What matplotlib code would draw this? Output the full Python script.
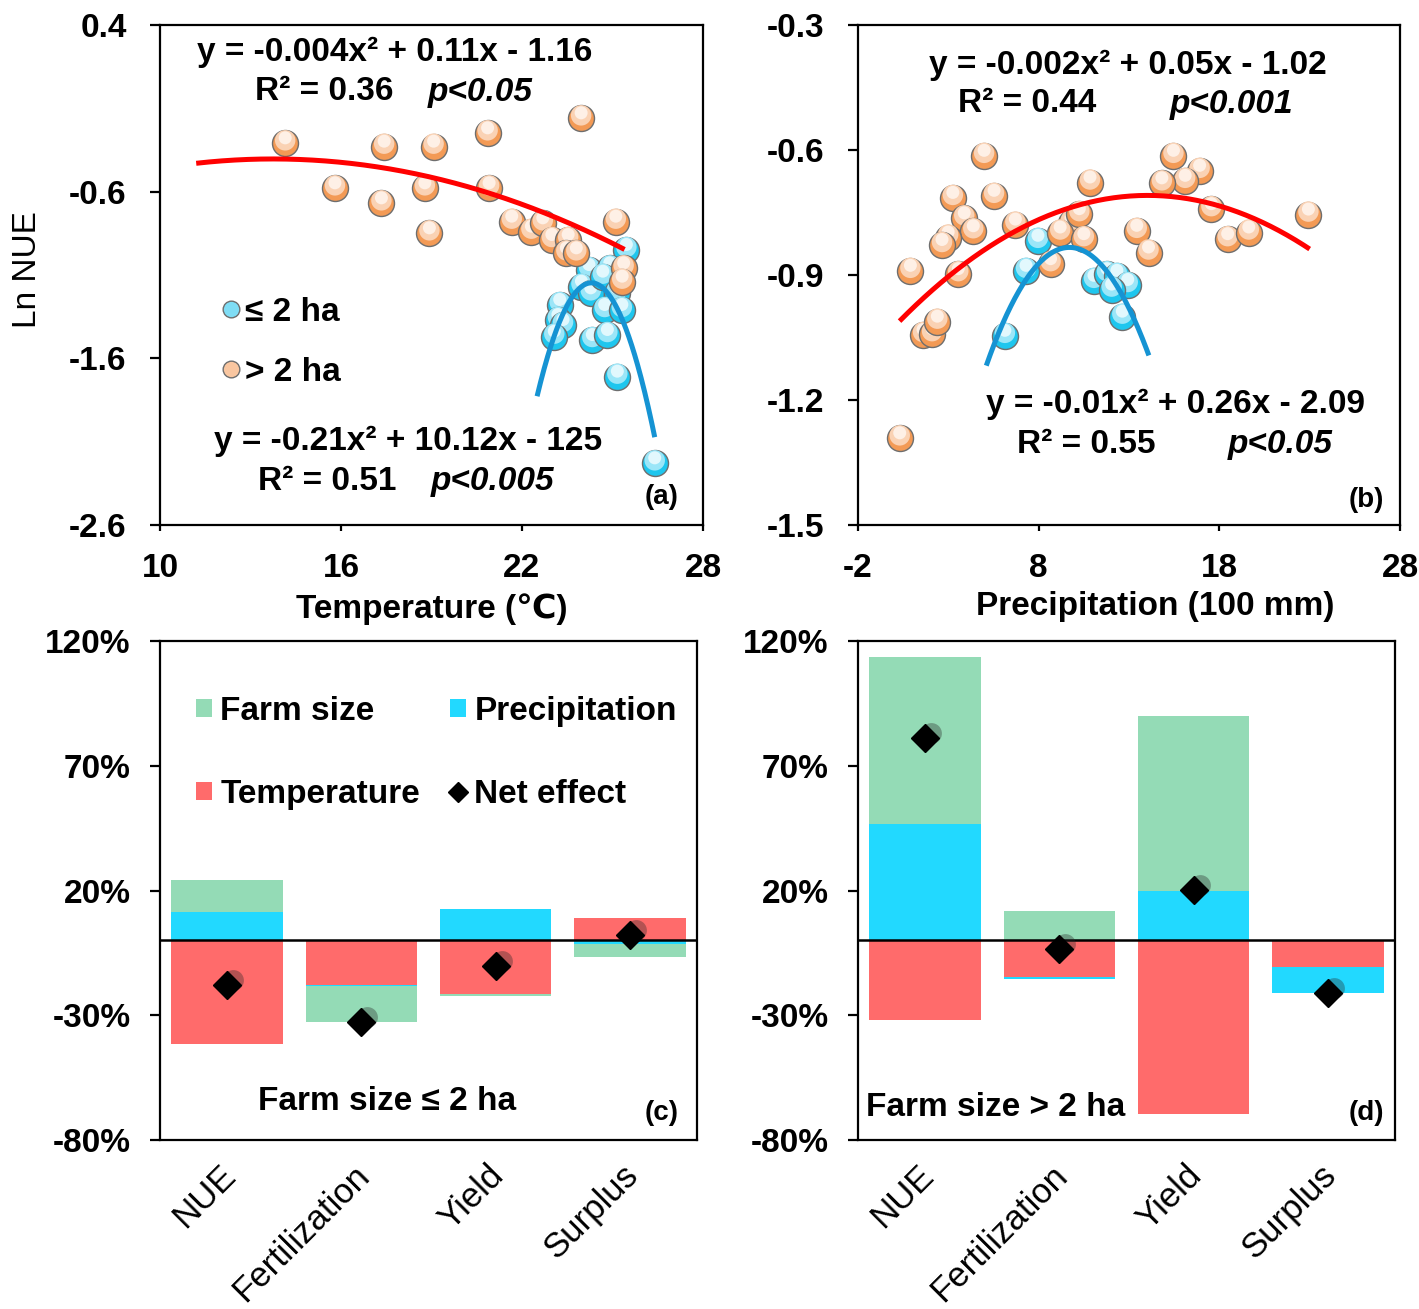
import numpy as np
import matplotlib
matplotlib.use("Agg")
import matplotlib.pyplot as plt
from matplotlib.lines import Line2D
from matplotlib.patches import Patch
from matplotlib.transforms import offset_copy, ScaledTranslation

plt.rcParams['font.family'] = ['Liberation Sans', 'DejaVu Sans']
plt.rcParams['axes.unicode_minus'] = False

# ---------------- Panel (a): Ln NUE vs temperature ----------------
temp_large = [14.15, 17.43, 19.07, 20.86, 23.96, 15.80, 17.34, 18.78, 20.91, 18.93,
              21.66, 22.31, 22.69, 22.99, 23.53, 23.47, 23.80, 25.11, 25.37, 25.32]
lnnue_temp_large = [-0.31, -0.33, -0.33, -0.25, -0.16, -0.58, -0.67, -0.58, -0.58, -0.85,
                    -0.78, -0.84, -0.79, -0.89, -0.89, -0.97, -0.97, -0.78, -1.06, -1.14]
temp_small = [25.46, 24.22, 24.91, 23.97, 24.28, 24.68, 25.14, 23.25, 24.74, 25.31,
              23.19, 23.36, 23.07, 24.33, 24.83, 25.16, 26.40]
lnnue_temp_small = [-0.95, -1.07, -1.06, -1.17, -1.21, -1.11, -1.21, -1.28, -1.31, -1.31,
                    -1.37, -1.40, -1.47, -1.49, -1.46, -1.71, -2.23]
fit_a_large = [-0.004, 0.11, -1.16]
fit_a_large_range = [11.2, 25.4]
fit_a_small = [-0.21, 10.206, -125.15]
fit_a_small_range = [22.5, 26.4]
a_xticks = [10, 16, 22, 28]
a_yticks = [0.4, -0.6, -1.6, -2.6]

# ---------------- Panel (b): Ln NUE vs precipitation ----------------
prec_large = [4.98, 15.46, 16.91, 16.11, 14.82, 10.84, 3.25, 5.53, 3.88, 4.38,
              2.99, 2.65, 6.71, 9.79, 10.25, 9.19, 10.50, 13.43, 14.08, 17.56,
              18.46, 19.63, 22.93, 0.90, 3.55, 8.66, 1.60, 2.10, 2.39, 0.31]
lnnue_prec_large = [-0.614, -0.614, -0.650, -0.674, -0.680, -0.678, -0.715, -0.710, -0.764, -0.795,
                    -0.810, -0.828, -0.779, -0.775, -0.754, -0.798, -0.814, -0.794, -0.846, -0.742,
                    -0.814, -0.798, -0.755, -0.890, -0.898, -0.874, -1.044, -1.042, -1.012, -1.292]
prec_small = [7.96, 7.30, 11.06, 11.78, 12.33, 12.93, 12.04, 12.63, 6.13]
lnnue_prec_small = [-0.818, -0.890, -0.914, -0.898, -0.902, -0.924, -0.935, -1.000, -1.046]
fit_b_large = [-0.0016, 0.0449, -1.024]
fit_b_large_range = [0.3, 23.0]
fit_b_small = [-0.0134, 0.26, -2.095]
fit_b_small_range = [5.1, 14.1]
b_xticks = [-2, 8, 18, 28]
b_yticks = [-0.3, -0.6, -0.9, -1.2, -1.5]

# ---------------- Panels (c), (d): attribution (%) ----------------
categories = ['NUE', 'Fertilization', 'Yield', 'Surplus']
small_temp = [-41.6, -17.8, -21.3, 9.0]
small_prec = [11.4, -0.5, 12.6, -1.4]
small_farm = [12.9, -14.6, -1.1, -5.2]
small_net = [-17.8, -32.9, -10.3, 2.1]
large_temp = [-32.1, -14.8, -69.7, -10.5]
large_prec = [46.6, -0.5, 20.0, -10.4]
large_farm = [67.0, 11.8, 70.0, -0.3]
large_net = [81.1, -3.4, 20.3, -21.2]
pct_yticks = [120, 70, 20, -30, -80]

# ---------------- styling ----------------
W, H = 1419, 1309
FS = 24
C_FARM = '#94DBB6'
C_PREC = '#22D9FF'
C_TEMP = '#FF6B6B'
C_RED = '#FF0000'
C_BLUE = '#1593D3'

fig = plt.figure(figsize=(W / 100, H / 100), dpi=100)

boxes = {  # left, top, right, bottom in pixels
    'a': (160, 25, 703, 525),
    'b': (858, 25, 1400, 525),
    'c': (160, 641, 697, 1140),
    'd': (858, 641, 1395, 1140),
}


def make_ax(key):
    l, t, r, b = boxes[key]
    return fig.add_axes([l / W, 1 - b / H, (r - l) / W, (b - t) / H])


def frac(key, px, py):
    l, t, r, b = boxes[key]
    return (px - l) / (r - l), (b - py) / (b - t)


def ptext(ax, key, px, py, s, ha='center', **kw):
    fx, fy = frac(key, px, py)
    kw.setdefault('fontsize', FS)
    kw.setdefault('fontweight', 'bold')
    ax.text(fx, fy, s, transform=ax.transAxes, ha=ha, va='center', **kw)


def style_axes(ax):
    for sp in ax.spines.values():
        sp.set_linewidth(1.6)
    ax.tick_params(axis='y', direction='out', length=7, width=1.6, pad=17, labelsize=FS)
    ax.tick_params(axis='x', direction='out', length=4, width=1.6, pad=16, labelsize=FS)
    for lab in ax.get_yticklabels():
        lab.set_fontweight('bold')


def sphere_points(ax, xs, ys, base, mid, top, z0):
    d = 26.0  # px diameter
    s = (d * 72 / 100) ** 2
    for i, (x, y) in enumerate(zip(xs, ys)):
        z = z0 + i * 0.01
        ax.scatter([x], [y], s=s, facecolor=base, edgecolor='#6E6E6E', linewidth=1.0, zorder=z)
        tr1 = offset_copy(ax.transData, fig=fig, x=0, y=3.0, units='dots')
        ax.scatter([x], [y], s=s * 0.62, facecolor=mid, edgecolor='none', zorder=z + 0.002, transform=tr1)
        tr2 = offset_copy(ax.transData, fig=fig, x=0, y=5.5, units='dots')
        ax.scatter([x], [y], s=s * 0.25, facecolor=top, edgecolor='none', zorder=z + 0.004, transform=tr2)


def fit_line(ax, coef, rng, color):
    xx = np.linspace(rng[0], rng[1], 200)
    ax.plot(xx, np.polyval(coef, xx), color=color, lw=3.6, zorder=10, solid_capstyle='butt')


ORANGE = ('#F39A55', '#FAD2B4', '#FEF0E6')
BLUE = ('#1EC6EE', '#9BE6F8', '#E2F8FD')

# ---- (a) ----
axa = make_ax('a')
sphere_points(axa, temp_small, lnnue_temp_small, *BLUE, z0=3)
sphere_points(axa, temp_large, lnnue_temp_large, *ORANGE, z0=5)
fit_line(axa, fit_a_large, fit_a_large_range, C_RED)
fit_line(axa, fit_a_small, fit_a_small_range, C_BLUE)
axa.set_xlim(10, 28)
axa.set_ylim(-2.6, 0.4)
axa.set_xticks(a_xticks)
axa.set_xticklabels([str(v) for v in a_xticks], fontweight='bold')
axa.set_yticks(a_yticks)
axa.set_yticklabels([f"{v:.1f}" for v in a_yticks])
style_axes(axa)
axa.set_xlabel('Temperature (\u2103)', fontsize=FS, fontweight='bold')
axa.xaxis.set_label_coords(*frac('a', 432, 609))
axa.xaxis.label.set_va('center')
axa.set_ylabel('Ln NUE', fontsize=FS)
axa.yaxis.set_label_coords(*frac('a', 28, 270))
axa.yaxis.label.set_va('center')
ptext(axa, 'a', 395, 52, 'y = -0.004x\u00b2 + 0.11x - 1.16')
ptext(axa, 'a', 255, 92, 'R\u00b2 = 0.36', ha='left')
ptext(axa, 'a', 428, 92, 'p<0.05', ha='left', style='italic')
ptext(axa, 'a', 408, 441, 'y = -0.21x\u00b2 + 10.12x - 125')
ptext(axa, 'a', 258, 481, 'R\u00b2 = 0.51', ha='left')
ptext(axa, 'a', 431, 481, 'p<0.005', ha='left', style='italic')
ptext(axa, 'a', 662, 497, '(a)', fontsize=20)
leg_a = [Line2D([], [], ls='', marker='o', markersize=12, markerfacecolor='#7FDDF5',
                markeredgecolor='#6E6E6E', label='\u2264 2 ha'),
         Line2D([], [], ls='', marker='o', markersize=12, markerfacecolor='#F9C6A0',
                markeredgecolor='#6E6E6E', label='> 2 ha')]
axa.legend(handles=leg_a, loc='upper left', bbox_to_anchor=frac('a', 222, 297),
           frameon=False, borderpad=0, borderaxespad=0, handlelength=0.55,
           handletextpad=0.15, labelspacing=0.87, prop={'size': FS, 'weight': 'bold'})

# ---- (b) ----
axb = make_ax('b')
sphere_points(axb, prec_small, lnnue_prec_small, *BLUE, z0=3)
sphere_points(axb, prec_large, lnnue_prec_large, *ORANGE, z0=5)
fit_line(axb, fit_b_large, fit_b_large_range, C_RED)
fit_line(axb, fit_b_small, fit_b_small_range, C_BLUE)
axb.set_xlim(-2, 28)
axb.set_ylim(-1.5, -0.3)
axb.set_xticks(b_xticks)
axb.set_xticklabels([str(v) for v in b_xticks], fontweight='bold')
axb.set_yticks(b_yticks)
axb.set_yticklabels([f"{v:.1f}" for v in b_yticks])
style_axes(axb)
axb.set_xlabel('Precipitation (100 mm)', fontsize=FS, fontweight='bold')
axb.xaxis.set_label_coords(*frac('b', 1155, 606))
axb.xaxis.label.set_va('center')
ptext(axb, 'b', 1128, 65, 'y = -0.002x\u00b2 + 0.05x - 1.02')
ptext(axb, 'b', 958, 104, 'R\u00b2 = 0.44', ha='left')
ptext(axb, 'b', 1170, 104, 'p<0.001', ha='left', style='italic')
ptext(axb, 'b', 1176, 404, 'y = -0.01x\u00b2 + 0.26x - 2.09')
ptext(axb, 'b', 1017, 444, 'R\u00b2 = 0.55', ha='left')
ptext(axb, 'b', 1228, 444, 'p<0.05', ha='left', style='italic')
ptext(axb, 'b', 1366, 500, '(b)', fontsize=20)


# ---- (c), (d) ----
def bar_panel(key, temp, prec, farm, net):
    ax = make_ax(key)
    x = np.arange(len(categories))
    pos = np.zeros(len(x))
    neg = np.zeros(len(x))
    for vals, col in ((temp, C_TEMP), (prec, C_PREC), (farm, C_FARM)):
        v = np.asarray(vals, dtype=float)
        bottom = np.where(v >= 0, pos, neg)
        ax.bar(x, v, bottom=bottom, width=0.83, color=col, zorder=2)
        pos = pos + np.where(v >= 0, v, 0)
        neg = neg + np.where(v < 0, v, 0)
    ax.axhline(0, color='black', lw=1.8, zorder=3)
    sh = offset_copy(ax.transData, fig=fig, x=6, y=5, units='dots')
    ax.plot(x, net, ls='', marker='o', markersize=15, color=(0.15, 0.15, 0.15, 0.35),
            markeredgewidth=0, zorder=4, transform=sh)
    ax.plot(x, net, ls='', marker='D', markersize=14, color='black', zorder=5)
    ax.set_xlim(-0.5, 3.5)
    ax.set_ylim(-80, 120)
    ax.set_yticks(pct_yticks)
    ax.set_yticklabels([f"{v}%" for v in pct_yticks])
    ax.set_xticks(x)
    ax.set_xticklabels(categories)
    style_axes(ax)
    ax.tick_params(axis='x', length=0, pad=6, labelsize=25)
    ax.tick_params(axis='y', pad=14)
    for lab in ax.get_xticklabels():
        lab.set_rotation(45)
        lab.set_rotation_mode('anchor')
        lab.set_ha('right')
        lab.set_va('center')
        lab.set_fontweight('normal')
        lab.set_transform(lab.get_transform() + ScaledTranslation(0.03, -0.22, fig.dpi_scale_trans))
    return ax


axc = bar_panel('c', small_temp, small_prec, small_farm, small_net)
ptext(axc, 'c', 387, 1101, 'Farm size \u2264 2 ha')
ptext(axc, 'c', 662, 1113, '(c)', fontsize=20)
leg_c = [Patch(facecolor=C_FARM, label='Farm size'),
         Patch(facecolor=C_TEMP, label='Temperature'),
         Patch(facecolor=C_PREC, label='Precipitation'),
         Line2D([], [], ls='', marker='D', markersize=10, color='black', label='Net effect')]
axc.legend(handles=leg_c, ncol=2, loc='upper left', bbox_to_anchor=frac('c', 196, 696),
           frameon=False, borderpad=0, borderaxespad=0, handlelength=0.48, handleheight=0.48,
           handletextpad=0.25, labelspacing=1.56, columnspacing=0.9,
           prop={'size': FS, 'weight': 'bold'})

axd = bar_panel('d', large_temp, large_prec, large_farm, large_net)
ptext(axd, 'd', 866, 1108, 'Farm size > 2 ha', ha='left')
ptext(axd, 'd', 1366, 1113, '(d)', fontsize=20)

fig.savefig('out.png', dpi=100)
